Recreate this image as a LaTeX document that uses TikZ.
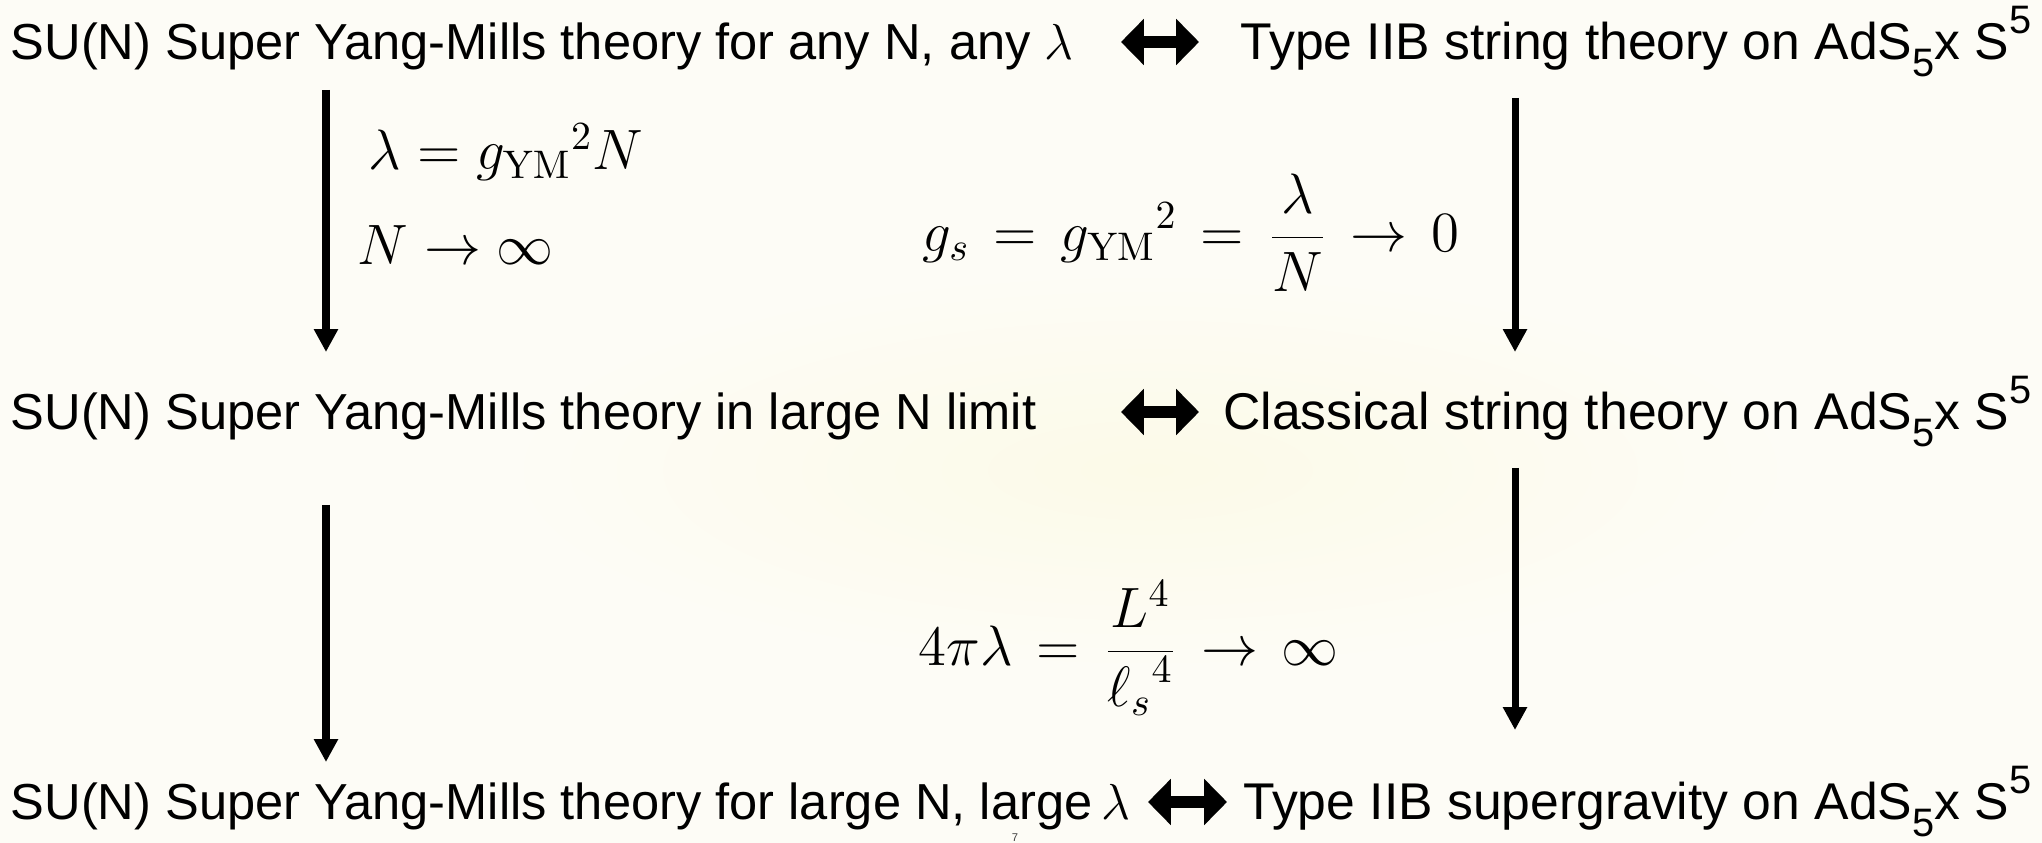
\documentclass[tikz,border=0pt]{standalone}
\usepackage{fix-cm}
\usepackage[no-math]{fontspec}
\setmainfont{Liberation Sans}
\usetikzlibrary{arrows.meta}
\definecolor{bgcream}{RGB}{253,252,246}
\definecolor{glow}{RGB}{252,250,232}
\newcommand\subfive{\raisebox{-0.31em}{\fontsize{11.3}{12}\selectfont 5}}
\newcommand\supfive{\raisebox{0.52em}{\fontsize{11.3}{12}\selectfont 5}}
\newcommand\wrel[1]{\mathrel{\mkern2.5mu#1\mkern2.5mu}}
\begin{document}
\begin{tikzpicture}[x=0.1mm,y=-0.1mm,
  lbl/.style={inner sep=0pt, font=\fontsize{14.7}{18}\selectfont},
  lbll/.style={inner sep=0pt, font=\fontsize{14.4}{18}\selectfont},
  eq/.style={inner sep=0pt, font=\fontsize{16.2}{20}\selectfont},
  varr/.style={line width=2pt, -{Triangle[length=6.5pt,width=6.5pt]}},
  dblarr/.style={line width=3.4pt, {Triangle[length=6.5pt,width=12.8pt]}-{Triangle[length=6.5pt,width=12.8pt]}}]
\fill[bgcream] (0,0) rectangle (2042,843);
\shade[inner color=glow, outer color=bgcream] (1150,470) ellipse (650 and 200);
\useasboundingbox (0,0) rectangle (2042,843);

% row 1
\node[lbll, anchor=base west] (l1) at (10,60) {SU(N) Super Yang-Mills theory for any N, any $\lambda$};
\node[lbl, anchor=base east] (r1) at (2032,60) {Type IIB string theory on AdS\subfive x S\supfive};
% row 2
\node[lbll, anchor=base west] (l2) at (10,430) {SU(N) Super Yang-Mills theory in large N limit};
\node[lbl, anchor=base east] (r2) at (2032,430) {Classical string theory on AdS\subfive x S\supfive};
% row 3
\node[lbll, anchor=base west] (l3) at (10,820) {SU(N) Super Yang-Mills theory for large N, large\,$\lambda$};
\node[lbl, anchor=base east] (r3) at (2032,820) {Type IIB supergravity on AdS\subfive x S\supfive};

% double arrows
\coordinate (d1l) at (1121,42); \coordinate (d1r) at (1199,42);
\coordinate (d2l) at (1121,412); \coordinate (d2r) at (1199,412);
\coordinate (d3l) at (1148,802); \coordinate (d3r) at (1227,802);
\draw[dblarr] (d1l) -- (d1r);
\draw[dblarr] (d2l) -- (d2r);
\draw[dblarr] (d3l) -- (d3r);

% vertical arrows
\coordinate (a1s) at (326,90);  \coordinate (a1e) at (326,352);
\coordinate (b1s) at (1515,98); \coordinate (b1e) at (1515,352);
\coordinate (a2s) at (326,505); \coordinate (a2e) at (326,762);
\coordinate (b2s) at (1515,468); \coordinate (b2e) at (1515,730);
\draw[varr] (a1s) -- (a1e);
\draw[varr] (b1s) -- (b1e);
\draw[varr] (a2s) -- (a2e);
\draw[varr] (b2s) -- (b2e);

% equations
\node[eq, anchor=base west] (e1) at (368,170) {$\lambda = {g_{\mathrm{YM}}}^2 N$};
\node[eq, anchor=base west] (e2) at (357,265) {$N \to \infty$};
\node[eq, anchor=base west] (e3) at (922,252) {$\displaystyle g_s \wrel{=} {g_{\mathrm{YM}}}^2 \wrel{=} \frac{\lambda}{N} \wrel{\to} 0$};
\node[eq, anchor=base west] (e4) at (918,666) {$\displaystyle 4\pi\lambda \wrel{=} \frac{L^4}{{\ell_s}^4} \wrel{\to} \infty$};

% slide number
\node[inner sep=0pt, font=\fontsize{3.2}{4}\selectfont, text=black!75] (pg) at (1015,838) {7};
\end{tikzpicture}
\end{document}
